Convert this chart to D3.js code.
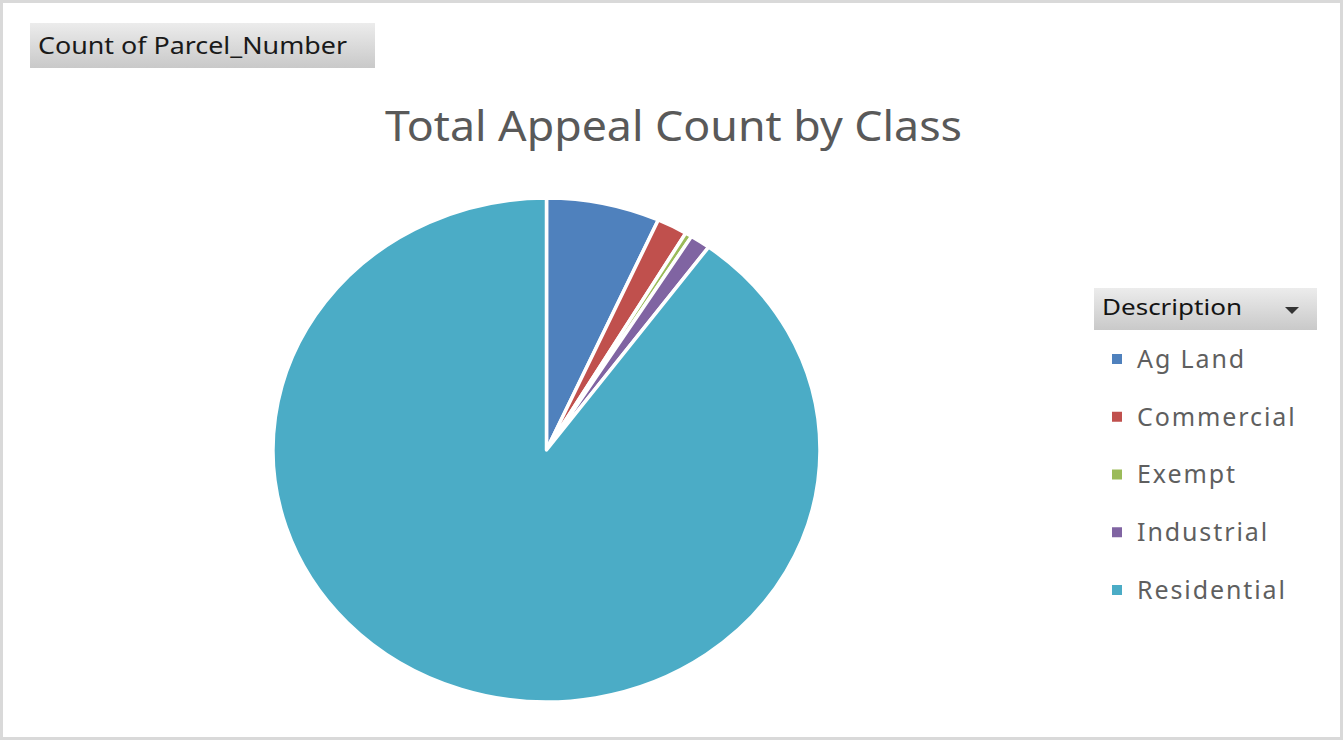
<!DOCTYPE html>
<html>
<head>
<meta charset="utf-8">
<script src="https://cdn.jsdelivr.net/npm/d3@7"></script>
<style>
  html, body { margin: 0; padding: 0; background: #fff; }
  svg { display: block; }
</style>
</head>
<body>
<div id="chart"></div>
<script>
// Dados do gráfico
const categories = ["Ag Land", "Commercial", "Exempt", "Industrial", "Residential"];
const counts = [67, 18, 4, 12, 899];
const colors = ["#4f81bd", "#c0504d", "#9bbb59", "#8064a2", "#4bacc6"];
const chartTitle = "Total Appeal Count by Class";
const fieldLabel = "Count of Parcel_Number";
const legendTitle = "Description";

const W = 1344, H = 740;
const font = "'Noto Sans', 'Open Sans', sans-serif";

const svg = d3.select("#chart").append("svg")
    .attr("width", W)
    .attr("height", H);

// Gradiente dos botões de campo
const defs = svg.append("defs");
const grad = defs.append("linearGradient")
    .attr("id", "btnGrad")
    .attr("x1", "0%").attr("x2", "0%")
    .attr("y1", "0%").attr("y2", "100%");
grad.append("stop").attr("offset", "0%").attr("stop-color", "#ececec");
grad.append("stop").attr("offset", "100%").attr("stop-color", "#c9c9c9");

// Moldura
svg.append("rect")
    .attr("x", 1.5).attr("y", 1.5)
    .attr("width", W - 4).attr("height", H - 3)
    .attr("fill", "#fff")
    .attr("stroke", "#d9d9d9")
    .attr("stroke-width", 3);

// Botão "Count of Parcel_Number"
svg.append("rect")
    .attr("x", 30).attr("y", 23)
    .attr("width", 345).attr("height", 45)
    .attr("fill", "url(#btnGrad)");
svg.append("text")
    .attr("x", 38).attr("y", 54)
    .attr("font-family", font)
    .attr("font-size", 23)
    .attr("fill", "#1a1a1a")
    .attr("textLength", 309)
    .attr("lengthAdjust", "spacingAndGlyphs")
    .text(fieldLabel);

// Título
svg.append("text")
    .attr("x", 385).attr("y", 141)
    .attr("font-family", font)
    .attr("font-size", 42)
    .attr("fill", "#595959")
    .attr("textLength", 577)
    .attr("lengthAdjust", "spacingAndGlyphs")
    .text(chartTitle);

// Pizza (levemente elíptica como na imagem original)
const cx = 546.5, cy = 450, rx = 273.5, ry = 252;
const pie = d3.pie().sort(null).value(d => d.value);
const arc = d3.arc().innerRadius(0).outerRadius(ry);
const data = categories.map((c, i) => ({ name: c, value: counts[i], color: colors[i] }));

const pieG = svg.append("g")
    .attr("transform", `translate(${cx},${cy}) scale(${rx / ry},1)`);
pieG.selectAll("path")
    .data(pie(data))
    .enter().append("path")
    .attr("d", arc)
    .attr("fill", d => d.data.color)
    .attr("stroke", "#fff")
    .attr("stroke-width", 3.5)
    .attr("stroke-linejoin", "round")
    .attr("vector-effect", "non-scaling-stroke");

// Legenda
svg.append("rect")
    .attr("x", 1094).attr("y", 288)
    .attr("width", 223).attr("height", 42)
    .attr("fill", "url(#btnGrad)");
svg.append("text")
    .attr("x", 1102).attr("y", 315)
    .attr("font-family", font)
    .attr("font-size", 22)
    .attr("fill", "#141414")
    .attr("textLength", 140)
    .attr("lengthAdjust", "spacingAndGlyphs")
    .text(legendTitle);
// seta do filtro
svg.append("path")
    .attr("d", d3.line()([[1285, 307], [1299, 307], [1292, 314]]) + "Z")
    .attr("fill", "#333");

const yLeg = d3.scalePoint().domain(categories).range([359, 590]);
const items = svg.append("g").selectAll("g")
    .data(data)
    .enter().append("g")
    .attr("transform", d => `translate(1112,${yLeg(d.name)})`);
items.append("rect")
    .attr("x", 0).attr("y", -5)
    .attr("width", 10).attr("height", 10)
    .attr("fill", d => d.color);
items.append("text")
    .attr("x", 25).attr("y", 0)
    .attr("dy", "0.35em")
    .attr("font-family", font)
    .attr("font-size", 25)
    .attr("letter-spacing", 1.9)
    .attr("fill", "#5f5f5f")
    .text(d => d.name);
</script>
</body>
</html>
